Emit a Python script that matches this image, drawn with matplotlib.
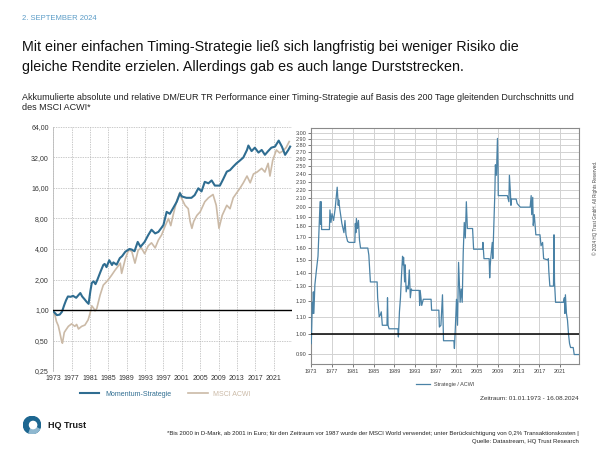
import matplotlib
matplotlib.use("Agg")
import matplotlib.pyplot as plt
from matplotlib.ticker import FixedLocator, NullLocator, FuncFormatter
from matplotlib.patches import Circle, Wedge

plt.rcParams["font.family"] = ["Liberation Sans", "DejaVu Sans"]

# Linkes Diagramm: kumulierte Performance (log2)
mom_years = [1973.0, 1973.4, 1973.8, 1974.4, 1974.9, 1975.4, 1975.8, 1976.2, 1976.8, 1977.3,
             1978.0, 1978.6, 1978.9, 1979.3, 1979.8, 1980.3, 1980.7, 1981.1, 1981.4, 1981.8,
             1982.2, 1982.6, 1983.3, 1983.9, 1984.2, 1984.6, 1985.2, 1985.8, 1986.1, 1986.8,
             1987.5, 1988.0, 1988.7, 1989.6, 1990.1, 1990.7, 1991.4, 1992.0, 1992.9, 1993.7,
             1994.4, 1995.2, 1995.9, 1996.6, 1997.0, 1997.7, 1998.4, 1999.1, 1999.9, 2000.6,
             2001.0, 2002.0, 2003.1, 2003.8, 2004.6, 2005.3, 2006.0, 2006.8, 2007.5, 2008.2,
             2009.3, 2010.0, 2010.8, 2011.5, 2012.2, 2012.9, 2013.7, 2014.4, 2015.2, 2015.5,
             2016.2, 2016.9, 2017.7, 2018.4, 2019.1, 2019.8, 2020.5, 2021.3, 2022.1, 2022.8,
             2023.5, 2024.2, 2024.6]
mom_values = [0.97, 0.93, 0.89, 0.90, 0.96, 1.12, 1.25, 1.36, 1.35, 1.38,
              1.32, 1.42, 1.47, 1.36, 1.28, 1.20, 1.15, 1.55, 1.85, 1.92,
              1.80, 1.98, 2.39, 2.78, 2.85, 2.65, 3.10, 2.78, 2.95, 2.80,
              3.25, 3.40, 3.76, 4.00, 3.95, 3.80, 4.70, 4.20, 4.70, 5.50,
              6.20, 5.70, 5.90, 6.50, 6.90, 9.30, 8.90, 10.1, 11.7, 14.2,
              13.2, 12.8, 12.8, 13.6, 15.9, 14.8, 18.4, 17.8, 19.0, 16.9,
              16.9, 19.5, 23.2, 24.0, 26.0, 28.0, 30.0, 32.0, 38.0, 42.0,
              37.0, 40.0, 35.8, 38.0, 34.0, 37.0, 40.0, 41.0, 47.0, 41.0,
              34.0, 38.0, 41.0]

acwi_years = [1973.0, 1973.4, 1973.7, 1974.1, 1974.4, 1974.8, 1975.0, 1975.4, 1975.8, 1976.3,
              1977.0, 1977.7, 1978.1, 1978.5, 1979.2, 1979.9, 1980.6, 1981.0, 1981.4, 1981.8,
              1982.1, 1982.5, 1983.2, 1983.9, 1984.6, 1985.2, 1985.7, 1986.4, 1987.1, 1987.6,
              1987.9, 1988.7, 1989.4, 1990.1, 1990.8, 1991.5, 1992.2, 1992.9, 1993.7, 1994.4,
              1995.2, 1995.9, 1996.6, 1997.4, 1998.1, 1998.6, 1999.1, 1999.9, 2000.6, 2000.9,
              2001.7, 2002.4, 2002.8, 2003.2, 2003.6, 2004.3, 2005.0, 2006.0, 2006.8, 2007.8,
              2008.5, 2009.1, 2009.8, 2010.8, 2011.5, 2012.2, 2012.9, 2013.7, 2014.4, 2015.2,
              2015.9, 2016.6, 2017.4, 2018.4, 2019.1, 2019.8, 2020.2, 2020.8, 2021.6, 2022.3,
              2023.0, 2023.7, 2024.4]
acwi_values = [0.97, 0.88, 0.77, 0.70, 0.61, 0.50, 0.47, 0.60, 0.64, 0.69,
               0.73, 0.69, 0.72, 0.65, 0.69, 0.71, 0.80, 0.92, 1.10, 1.04,
               0.98, 1.04, 1.40, 1.76, 1.90, 2.05, 2.20, 2.45, 2.70, 2.90,
               2.30, 3.20, 3.90, 3.80, 2.90, 3.90, 4.10, 3.60, 4.30, 4.60,
               4.10, 4.90, 5.50, 6.80, 8.00, 6.80, 8.60, 12.0, 14.5, 12.8,
               10.8, 10.0, 7.5, 6.4, 7.5, 8.6, 9.3, 11.7, 12.8, 13.8,
               10.8, 6.4, 8.6, 10.8, 10.0, 12.8, 14.2, 16.0, 18.0, 21.0,
               18.0, 22.0, 23.0, 25.0, 23.0, 28.0, 21.0, 30.0, 38.0, 35.5,
               37.0, 40.0, 46.0]

# Rechtes Diagramm: Strategie / ACWI
ratio_years = [1973.0, 1973.1, 1973.2, 1973.3, 1973.4, 1973.5, 1973.7, 1974.0, 1974.3, 1974.6,
               1974.7, 1974.8, 1974.9, 1975.0, 1976.5, 1976.6, 1976.8, 1977.0, 1977.3, 1977.6,
               1978.0, 1978.2, 1978.3, 1978.5, 1978.9, 1979.3, 1979.5, 1979.7, 1980.0, 1980.3,
               1981.4, 1981.5, 1981.6, 1981.7, 1981.9, 1982.1, 1982.3, 1982.5, 1983.9, 1984.1,
               1984.4, 1985.7, 1985.8, 1986.1, 1986.3, 1986.5, 1986.7, 1987.6, 1987.7, 1987.8,
               1988.0, 1989.7, 1989.8, 1990.0, 1990.2, 1990.4, 1990.6, 1990.7, 1990.8, 1991.0,
               1991.1, 1991.3, 1991.5, 1991.7, 1991.9, 1992.1, 1992.3, 1992.4, 1993.8, 1993.9,
               1994.0, 1994.3, 1994.6, 1996.1, 1996.2, 1997.6, 1997.7, 1998.0, 1998.3, 1998.5,
               2000.5, 2000.6, 2000.8, 2001.0, 2001.2, 2001.4, 2001.7, 2001.9, 2002.1, 2002.3,
               2002.5, 2002.7, 2002.9, 2003.1, 2004.1, 2004.3, 2006.0, 2006.1, 2006.3, 2007.3,
               2007.4, 2007.5, 2007.6, 2007.9, 2008.0, 2008.2, 2008.4, 2008.5, 2008.7, 2008.9,
               2009.0, 2009.05, 2010.8, 2011.1, 2011.2, 2011.4, 2011.5, 2011.6, 2012.5, 2012.7,
               2013.3, 2015.2, 2015.4, 2015.5, 2015.7, 2015.8, 2016.0, 2016.3, 2017.1, 2017.3,
               2017.6, 2017.8, 2018.6, 2018.7, 2018.8, 2019.0, 2019.7, 2019.8, 2019.9, 2020.1,
               2021.6, 2021.8, 2021.9, 2022.0, 2022.2, 2022.4, 2022.6, 2022.8, 2023.0, 2023.5,
               2023.7, 2024.6]
ratio_values = [0.95, 1.05, 1.19, 1.12, 1.26, 1.12, 1.31, 1.42, 1.53, 1.91,
                2.06, 1.82, 2.06, 1.77, 1.77, 1.97, 1.84, 1.93, 1.86, 1.98,
                2.23, 2.02, 2.08, 1.98, 1.83, 1.74, 1.86, 1.72, 1.66, 1.65,
                1.65, 1.83, 1.74, 1.88, 1.78, 1.86, 1.67, 1.60, 1.60, 1.54,
                1.33, 1.33, 1.22, 1.10, 1.11, 1.13, 1.05, 1.05, 1.22, 1.05,
                1.03, 1.03, 0.985, 1.13, 1.22, 1.38, 1.53, 1.46, 1.52, 1.33,
                1.46, 1.26, 1.30, 1.28, 1.42, 1.22, 1.28, 1.27, 1.27, 1.17,
                1.27, 1.17, 1.21, 1.21, 1.14, 1.14, 1.04, 1.05, 1.24, 0.965,
                0.965, 0.925, 1.05, 1.21, 1.05, 1.48, 1.19, 1.28, 1.19, 1.56,
                1.84, 1.69, 2.06, 1.78, 1.78, 1.59, 1.59, 1.65, 1.51, 1.51,
                1.36, 1.45, 1.51, 1.65, 1.51, 1.81, 2.17, 2.52, 2.38, 2.91,
                2.52, 2.13, 2.13, 2.06, 2.38, 2.16, 2.02, 2.09, 2.09, 2.04,
                2.00, 2.00, 2.13, 1.92, 2.11, 1.81, 1.92, 1.72, 1.72, 1.62,
                1.65, 1.51, 1.50, 1.51, 1.41, 1.30, 1.30, 1.72, 1.33, 1.19,
                1.19, 1.22, 1.12, 1.24, 1.12, 1.08, 1.00, 0.95, 0.93, 0.93,
                0.895, 0.895]

year_ticks = [1973, 1977, 1981, 1985, 1989, 1993, 1997, 2001, 2005, 2009, 2013, 2017, 2021]
perf_ticks = [0.25, 0.5, 1, 2, 4, 8, 16, 32, 64]
ratio_ticks = [0.90, 1.00, 1.10, 1.20, 1.30, 1.40, 1.50, 1.60, 1.70, 1.80, 1.90, 2.00,
               2.10, 2.20, 2.30, 2.40, 2.50, 2.60, 2.70, 2.80, 2.90, 3.00]

blue = "#2f6d91"
beige = "#cbbaa7"
ratio_col = "#4a82a6"

fig = plt.figure(figsize=(6, 4.5), dpi=100)

# Kopf
fig.text(22/600, 1-19/450, "2. SEPTEMBER 2024", fontsize=5.5, color="#5b9cc7", va="center")
fig.text(22/600, 1-47/450, "Mit einer einfachen Timing-Strategie ließ sich langfristig bei weniger Risiko die",
         fontsize=10.3, color="#111111", va="center")
fig.text(22/600, 1-67/450, "gleiche Rendite erzielen. Allerdings gab es auch lange Durststrecken.",
         fontsize=10.3, color="#111111", va="center")
fig.text(22/600, 1-97/450, "Akkumulierte absolute und relative DM/EUR TR Performance einer Timing-Strategie "
         "auf Basis des 200 Tage gleitenden Durchschnitts und", fontsize=6.5, color="#222222", va="center")
fig.text(22/600, 1-107/450, "des MSCI ACWI*", fontsize=6.5, color="#222222", va="center")

# linkes Diagramm
ax1 = fig.add_axes([53/600, 1-371/450, 239/600, 244/450])
ax1.plot(acwi_years, acwi_values, color=beige, lw=1.2, label="MSCI ACWI", zorder=3)
ax1.plot(mom_years, mom_values, color=blue, lw=1.5, label="Momentum-Strategie", zorder=4)
ax1.axhline(1.0, color="black", lw=1.0, zorder=5)
ax1.set_yscale("log", base=2)
ax1.set_ylim(0.25, 64)
ax1.set_xlim(1972.95, 2025.0)
ax1.yaxis.set_major_locator(FixedLocator(perf_ticks))
ax1.yaxis.set_minor_locator(NullLocator())
ax1.yaxis.set_major_formatter(FuncFormatter(lambda v, p: f"{v:.2f}".replace(".", ",")))
ax1.set_xticks(year_ticks)
ax1.set_xticklabels([str(y) for y in year_ticks])
ax1.grid(True, color="#b5b5b5", lw=0.5, ls=(0, (2, 1.5)))
ax1.tick_params(length=0, labelsize=5, colors="#333333", pad=3)
for s in ["top", "right", "bottom"]:
    ax1.spines[s].set_visible(False)
ax1.spines["left"].set_color("#bbbbbb")
ax1.spines["left"].set_linewidth(0.6)
h, l = ax1.get_legend_handles_labels()
leg1 = ax1.legend(h[::-1], l[::-1], loc="upper center", bbox_to_anchor=(0.47, -0.055), ncol=2,
                  frameon=False, fontsize=5, handlelength=2.8, columnspacing=2.5)
for txt, c in zip(leg1.get_texts(), [blue, beige]):
    txt.set_color(c)

# rechtes Diagramm
ax2 = fig.add_axes([311/600, 1-364/450, 268/600, 236/450])
ax2.plot(ratio_years, ratio_values, color=ratio_col, lw=0.9, label="Strategie / ACWI", zorder=3)
ax2.axhline(1.0, color="black", lw=1.1, zorder=4)
ax2.set_yscale("log")
ax2.set_ylim(0.85, 3.08)
ax2.set_xlim(1972.95, 2024.62)
ax2.yaxis.set_major_locator(FixedLocator(ratio_ticks))
ax2.yaxis.set_minor_locator(NullLocator())
ax2.yaxis.set_major_formatter(FuncFormatter(lambda v, p: f"{v:.2f}"))
ax2.set_xticks(year_ticks)
ax2.set_xticklabels([str(y) for y in year_ticks])
ax2.grid(True, color="#d2d2d2", lw=0.7)
ax2.tick_params(length=2, width=0.5, labelsize=4, colors="#444444", pad=1.5)
for s in ax2.spines.values():
    s.set_color("#8a8a8a")
    s.set_linewidth(0.8)
ax2.legend(loc="upper center", bbox_to_anchor=(0.5, -0.055), frameon=False, fontsize=4,
           handlelength=2.5, labelcolor="#444444")

fig.text(579/600, 1-399/450, "Zeitraum: 01.01.1973 - 16.08.2024", fontsize=4.6, color="#333333",
         ha="right", va="center")
fig.text(595/600, 1-208/450, "© 2024 HQ Trust GmbH. All Rights Reserved.", fontsize=3.3, color="#444444",
         rotation=90, ha="center", va="center")

# Fußnote
fig.text(579/600, 1-434/450, "*Bis 2000 in D-Mark, ab 2001 in Euro; für den Zeitraum vor 1987 wurde der MSCI World "
         "verwendet; unter Berücksichtigung von 0,2% Transaktionskosten |", fontsize=4.35, color="#222222",
         ha="right", va="center")
fig.text(579/600, 1-441/450, "Quelle: Datastream, HQ Trust Research", fontsize=4.35, color="#222222",
         ha="right", va="center")

# Logo
axl = fig.add_axes([23/600, 1-434/450, 18/600, 18/450])
axl.set_xlim(0, 1)
axl.set_ylim(0, 1)
axl.axis("off")
axl.add_patch(Circle((0.5, 0.5), 0.48, color="#1d6690"))
axl.add_patch(Wedge((0.5, 0.5), 0.48, 250, 330, color="#8fb8d0"))
axl.add_patch(Circle((0.56, 0.5), 0.2, color="white"))
fig.text(48/600, 1-426/450, "HQ Trust", fontsize=6.5, fontweight="bold", color="#1a1a1a", va="center")

fig.savefig("out.png", dpi=100)
